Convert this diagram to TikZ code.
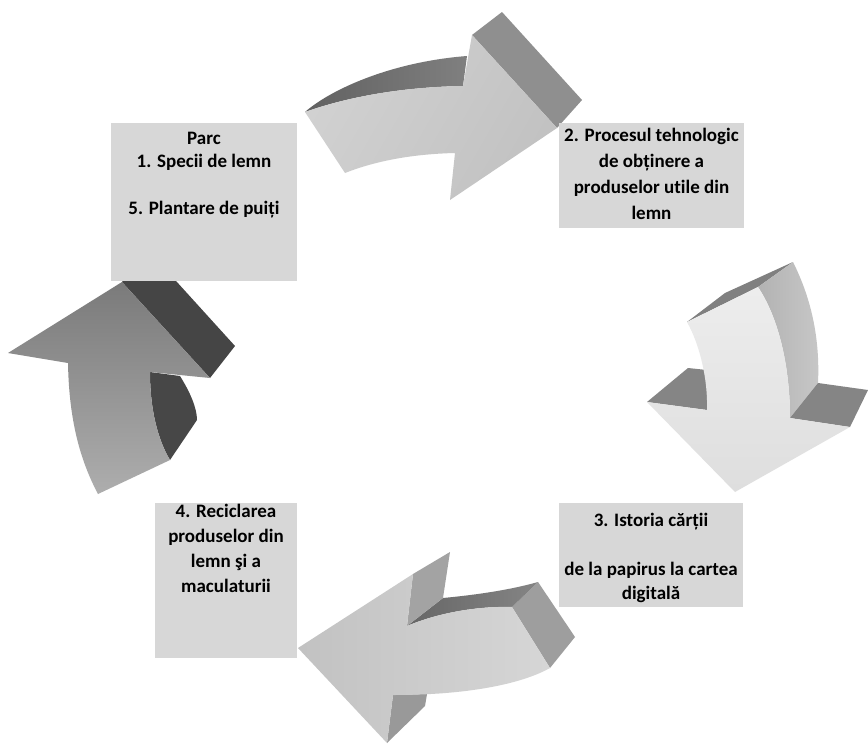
\documentclass[tikz,border=0pt]{standalone}
\usepackage{fontspec}
\setmainfont{Carlito}[Ligatures={NoCommon}]
\definecolor{boxgray}{HTML}{D7D7D7}
\tikzset{
  boxstyle/.style={fill=boxgray, draw=none, inner sep=0pt},
  txtstyle/.style={font=\bfseries\fontsize{19}{23.3}\selectfont, align=center, inner sep=0pt, anchor=north},
  face/.style={draw=none},
}
\begin{document}
\begin{tikzpicture}[x=1pt,y=-1pt]
\useasboundingbox[fill=white] (0,0) rectangle (868,744);

% ---------- Arrow 1 (top, pointing right) ----------
\shade[face, left color=black!62, right color=black!50]
  (305,112) .. controls (330,90) and (390,62) .. (467,56) -- (463,86)
  .. controls (405,87) and (350,96) .. (305,112) -- cycle;
\fill[face, black!44] (472,35) -- (502,12) -- (582,100) -- (557,128) -- cycle;
\shade[face, left color=black!18, right color=black!24, shading angle=60]
  (305,112) .. controls (350,96) and (405,87) .. (463,86) -- (472,35) -- (557,128)
  -- (450,200) -- (455,153) .. controls (415,154) and (378,160) .. (345,173) -- cycle;

% ---------- Arrow 2 (right, pointing down) ----------
\fill[face, black!50] (687,322) -- (725,293) -- (793,262) -- (758,287) -- cycle;
\shade[face, left color=black!30, right color=black!22]
  (758,287) -- (793,262) .. controls (812,300) and (820,340) .. (818,383)
  -- (790,418) .. controls (790,370) and (780,320) .. (758,287) -- cycle;
\fill[face, black!48] (818,383) -- (868,390) -- (850,427) -- (790,418) -- cycle;
\fill[face, black!48] (647,402) -- (688,368) -- (707,370) -- (707,410) -- cycle;
\shade[face, top color=black!7, bottom color=black!13]
  (687,322) -- (758,287) .. controls (780,320) and (790,370) .. (790,418)
  -- (850,427) -- (735,492) -- (647,402) -- (707,410)
  .. controls (708,380) and (700,345) .. (687,322) -- cycle;

% ---------- Arrow 3 (bottom, pointing left) ----------
\fill[face, black!38] (512,607) -- (538,582) -- (575,637) -- (550,668) -- cycle;
\shade[face, left color=black!60, right color=black!48]
  (538,582) .. controls (510,590) and (475,595) .. (443,598) -- (407,626)
  .. controls (440,612) and (480,606) .. (512,607) -- cycle;
\fill[face, black!36] (413,574) -- (450,552) -- (443,598) -- (407,626) -- cycle;
\fill[face, black!40] (393,695) -- (427,694) -- (425,706) -- (387,743) -- cycle;
\shade[face, left color=black!24, right color=black!16]
  (407,626) .. controls (440,612) and (480,606) .. (512,607) -- (550,668)
  .. controls (525,682) and (475,695) .. (393,695) -- (387,743) -- (298,648)
  -- (413,574) -- cycle;

% ---------- Arrow 4 (left, pointing up) ----------
\fill[face, black!73] (122,282) -- (147,249) -- (235,346) -- (210,378) -- cycle;
\fill[face, black!72] (150,372) -- (180,376) .. controls (190,392) and (197,408) .. (197,420)
  -- (170,460) .. controls (158,440) and (150,410) .. (150,372) -- cycle;
\shade[face, top color=black!52, bottom color=black!32]
  (122,282) -- (210,378) -- (150,372) .. controls (150,410) and (158,440) .. (170,460)
  -- (98,494) .. controls (80,460) and (69,420) .. (68,363) -- (8,353) -- cycle;

% ---------- Boxes ----------
\node[boxstyle, minimum width=186pt, minimum height=158pt] (b1) at (204,202) {};
\node[boxstyle, minimum width=185pt, minimum height=105pt] (b2) at (651.5,175.5) {};
\node[boxstyle, minimum width=184pt, minimum height=104pt] (b3) at (651,555) {};
\node[boxstyle, minimum width=142pt, minimum height=155pt] (b4) at (226,580.5) {};

\node[txtstyle] (t1) at ([yshift=-9pt]b1.north) {Parc\\1. Specii de lemn\\[23.3pt]5. Plantare de puiți};
\node[txtstyle, font=\bfseries\fontsize{19}{26}\selectfont] (t2) at ([yshift=-5pt]b2.north)
  {2. Procesul tehnologic\\de obținere a\\produselor utile din\\lemn};
\node[txtstyle, font=\bfseries\fontsize{19}{24.5}\selectfont] (t3) at ([yshift=-10pt]b3.north)
  {3. Istoria cărții\\[24.5pt]de la papirus la cartea\\digitală};
\node[txtstyle, font=\bfseries\fontsize{19}{25}\selectfont] (t4) at ([yshift=-1pt]b4.north)
  {4. Reciclarea\\produselor din\\lemn şi a\\maculaturii};
\end{tikzpicture}
\end{document}
